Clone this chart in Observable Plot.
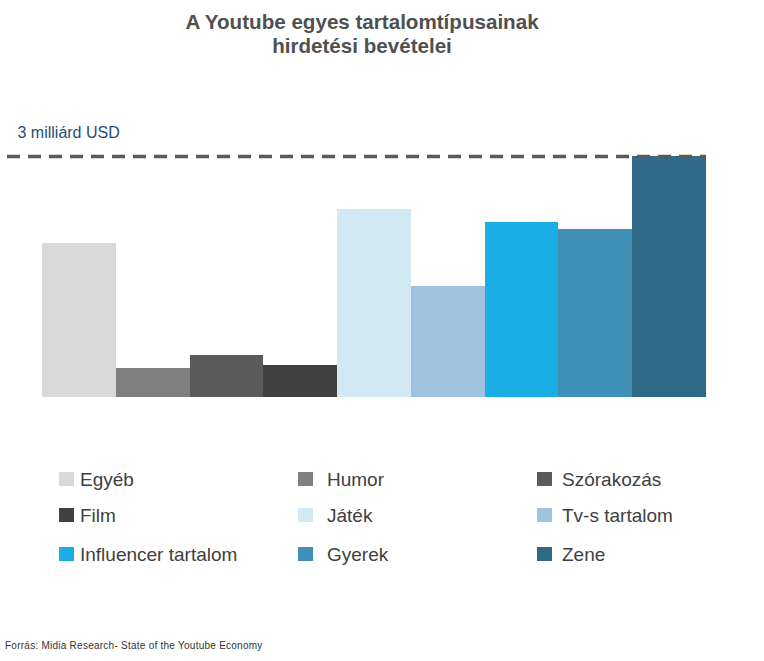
<!DOCTYPE html>
<html>
<head>
<meta charset="utf-8">
<script src="https://cdn.jsdelivr.net/npm/d3@7"></script>
<script src="https://cdn.jsdelivr.net/npm/@observablehq/plot@0.6"></script>
<style>
  html, body { margin: 0; padding: 0; background: #ffffff; }
  #root { position: relative; width: 764px; height: 661px; overflow: hidden;
          font-family: "Liberation Sans", Arial, sans-serif; background: #fff; }
  #title { position: absolute; left: 0; top: 10px; width: 724px; text-align: center;
           font-size: 20.6px; font-weight: bold; line-height: 24px; color: #505050; }
  #chart { position: absolute; left: 0; top: 70px; }
  .lg-sw { position: absolute; width: 15px; height: 14px; }
  .lg-tx { position: absolute; height: 14px; line-height: 14px; font-size: 19px; color: #404040; white-space: nowrap; }
  #caption { position: absolute; left: 5px; top: 639.5px; font-size: 10px; line-height: 12px;
             color: #333; letter-spacing: 0.25px; white-space: nowrap; }
</style>
</head>
<body>
<div id="root">
  <div id="title">A Youtube egyes tartalomtípusainak<br>hirdetési bevételei</div>
  <div id="chart"></div>
  <div id="legend"></div>
  <div id="caption"></div>
</div>
<script>
// ---- data ----
const categories = ["Egyéb", "Humor", "Szórakozás", "Film", "Játék", "Tv-s tartalom", "Influencer tartalom", "Gyerek", "Zene"];
const values = [1.92, 0.36, 0.52, 0.40, 2.34, 1.38, 2.18, 2.09, 3.0]; // milliárd USD (estimated)
const colors = ["#d9d9d9", "#808080", "#5a5a5a", "#404040", "#d2e9f4", "#9fc3dd", "#1baee4", "#4090b7", "#316a87"];
const refValues = [3];
const refLabels = ["3 milliárd USD"];
const captionText = "Forrás: Midia Research- State of the Youtube Economy";

// ---- table ----
const data = categories.map((c, i) => ({category: c, value: values[i]}));
const ref = refValues.map((v, i) => ({value: v, label: refLabels[i]}));

const chart = Plot.plot({
  width: 764,
  height: 360,
  marginLeft: 42,
  marginRight: 58,
  marginTop: 86,
  marginBottom: 33,
  style: {fontFamily: "'Liberation Sans', Arial, sans-serif", background: "transparent", overflow: "visible"},
  x: {domain: categories, padding: 0, round: false, axis: null},
  y: {domain: [0, 3], axis: null},
  color: {domain: categories, range: colors},
  marks: [
    Plot.barY(data, {x: "category", y: "value", fill: "category", shapeRendering: "crispEdges"}),
    Plot.ruleY(ref, {y: "value", stroke: "#5a5a5a", strokeWidth: 3.5, strokeDasharray: "13,8", insetLeft: -35, insetRight: 0}),
    Plot.text(ref, {y: "value", text: "label", frameAnchor: "left", textAnchor: "start", lineAnchor: "bottom",
                    dx: -25, dy: -19, fontSize: 16, fill: "#1f4e79"})
  ]
});
document.getElementById("chart").appendChild(chart);

// ---- legend (HTML, below the plot) ----
const colX = [59, 298, 537];
const textGap = [21, 29, 25];
const rowY = [472, 508, 547];
const legend = document.getElementById("legend");
categories.forEach((c, i) => {
  const col = i % 3, row = Math.floor(i / 3);
  const sw = document.createElement("div");
  sw.className = "lg-sw";
  sw.style.left = colX[col] + "px";
  sw.style.top = rowY[row] + "px";
  sw.style.background = colors[i];
  legend.appendChild(sw);
  const tx = document.createElement("div");
  tx.className = "lg-tx";
  tx.style.left = (colX[col] + textGap[col]) + "px";
  tx.style.top = (rowY[row] + 1) + "px";
  tx.textContent = c;
  legend.appendChild(tx);
});

document.getElementById("caption").textContent = captionText;
</script>
</body>
</html>
